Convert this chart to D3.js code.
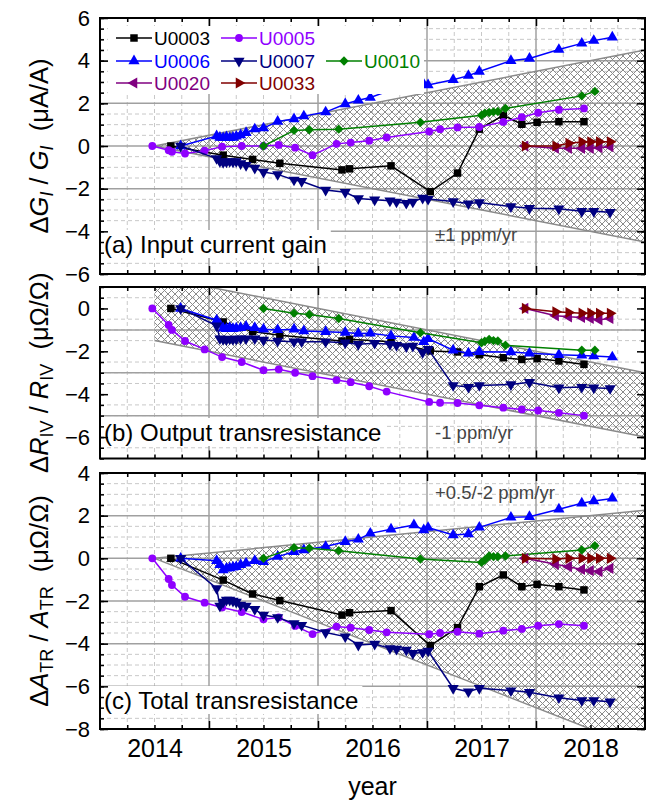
<!DOCTYPE html>
<html>
<head>
<meta charset="utf-8">
<script src="https://cdn.jsdelivr.net/npm/d3@7"></script>
<style>
  body { margin: 0; background: #fff; }
  text { font-family: "Liberation Sans", Arial, sans-serif; }
</style>
</head>
<body>
<svg width="649" height="801"></svg>
<script>
// ---- data ----
const devices = ["U0003", "U0005", "U0006", "U0007", "U0010", "U0020", "U0033"];

const tU0003 = [2014.65, 2015.13, 2015.40, 2015.65, 2016.22, 2016.29, 2016.67, 2017.03, 2017.28, 2017.48, 2017.70, 2017.87, 2018.01, 2018.21, 2018.44];
const gainU0003 = [0, -0.43, -0.63, -0.81, -1.12, -1.07, -0.93, -2.14, -1.27, 0.79, 1.44, 1.02, 1.11, 1.14, 1.14];
const outU0003 = [0, -0.63, -1.08, -1.25, -1.52, -1.44, -1.55, -1.98, -2.03, -2.16, -2.30, -2.38, -2.34, -2.45, -2.61];
const totU0003 = [0, -1.02, -1.67, -1.98, -2.66, -2.55, -2.45, -4.09, -3.25, -1.33, -0.78, -1.33, -1.22, -1.33, -1.48];

const tU0005 = [2014.48, 2014.63, 2014.66, 2014.78, 2014.96, 2015.12, 2015.30, 2015.50, 2015.64, 2015.79, 2015.95, 2016.17, 2016.30, 2016.47, 2016.63, 2017.02, 2017.12, 2017.28, 2017.48, 2017.70, 2017.87, 2018.02, 2018.21, 2018.44];
const gainU0005 = [0, -0.2, -0.27, -0.35, -0.22, -0.03, 0, 0, 0.05, -0.08, -0.43, 0.1, 0.16, 0.25, 0.4, 0.68, 0.79, 0.87, 0.89, 1.13, 1.35, 1.56, 1.70, 1.76];
const outU0005 = [0, -0.77, -1.0, -1.52, -1.91, -2.27, -2.5, -2.88, -2.84, -3.0, -3.16, -3.34, -3.44, -3.63, -3.88, -4.36, -4.4, -4.41, -4.52, -4.63, -4.71, -4.76, -4.87, -5.0];
const totU0005 = [0, -0.97, -1.25, -1.8, -2.08, -2.3, -2.52, -2.86, -2.77, -3.17, -3.55, -3.2, -3.25, -3.36, -3.47, -3.56, -3.5, -3.44, -3.53, -3.39, -3.31, -3.16, -3.08, -3.16];

const tU0006 = [2014.74, 2015.07, 2015.10, 2015.13, 2015.16, 2015.19, 2015.22, 2015.25, 2015.29, 2015.34, 2015.42, 2015.50, 2015.63, 2015.78, 2015.87, 2016.07, 2016.25, 2016.37, 2016.48, 2016.67, 2016.88, 2016.97, 2017.01, 2017.24, 2017.38, 2017.48, 2017.77, 2017.94, 2018.21, 2018.42, 2018.53, 2018.70];
const gainU0006 = [0, 0.47, 0.40, 0.38, 0.42, 0.38, 0.40, 0.45, 0.52, 0.62, 0.79, 0.84, 1.15, 1.27, 1.40, 1.59, 1.97, 2.14, 2.27, 2.62, 2.98, 2.90, 2.86, 3.11, 3.30, 3.49, 4.0, 4.1, 4.52, 4.81, 4.94, 5.1];
const outU0006 = [0, -0.55, -0.75, -0.92, -0.95, -0.9, -0.95, -0.92, -0.9, -0.84, -0.9, -0.97, -1.0, -0.97, -1.05, -1.09, -1.12, -1.17, -1.16, -1.28, -1.36, -1.56, -1.41, -1.95, -2.09, -2.02, -2.03, -2.09, -2.16, -2.19, -2.22, -2.27];
const totU0006 = [0, -0.11, -0.3, -0.55, -0.47, -0.45, -0.42, -0.4, -0.3, -0.23, -0.11, -0.16, 0.08, 0.31, 0.39, 0.55, 0.78, 0.89, 1.17, 1.36, 1.56, 1.33, 1.44, 1.09, 1.14, 1.45, 1.92, 1.95, 2.3, 2.58, 2.69, 2.81];

const tU0007 = [2014.74, 2015.07, 2015.10, 2015.13, 2015.16, 2015.19, 2015.22, 2015.25, 2015.29, 2015.34, 2015.42, 2015.50, 2015.63, 2015.78, 2015.85, 2016.07, 2016.25, 2016.37, 2016.52, 2016.66, 2016.72, 2016.81, 2016.87, 2016.96, 2017.01, 2017.24, 2017.38, 2017.48, 2017.77, 2017.94, 2018.21, 2018.42, 2018.53, 2018.68];
const gainU0007 = [0, -0.58, -0.72, -0.76, -0.74, -0.72, -0.74, -0.72, -0.82, -0.9, -1.03, -1.22, -1.33, -1.59, -1.65, -2.06, -2.17, -2.46, -2.52, -2.57, -2.62, -2.68, -2.62, -2.44, -2.49, -2.6, -2.7, -2.65, -2.84, -2.92, -2.94, -3.06, -3.06, -3.1];
const outU0007 = [0, -0.81, -1.41, -1.44, -1.45, -1.42, -1.44, -1.43, -1.41, -1.41, -1.41, -1.47, -1.52, -1.55, -1.55, -1.55, -1.6, -1.67, -1.62, -1.67, -1.72, -1.78, -1.75, -2.06, -1.9, -3.59, -3.67, -3.59, -3.55, -3.44, -3.7, -3.67, -3.7, -3.73];
const totU0007 = [0, -1.41, -2.23, -2.05, -1.95, -1.95, -2.0, -2.05, -2.19, -2.23, -2.39, -2.66, -2.77, -3.05, -3.13, -3.48, -3.67, -4.06, -4.02, -4.22, -4.25, -4.3, -4.45, -4.41, -4.34, -6.09, -6.25, -6.09, -6.2, -6.28, -6.53, -6.66, -6.66, -6.72];

const tU0010 = [2015.50, 2015.78, 2015.92, 2016.19, 2016.94, 2017.50, 2017.53, 2017.57, 2017.61, 2017.65, 2017.72, 2018.42, 2018.54];
const gainU0010 = [0, 0.73, 0.76, 0.79, 1.11, 1.44, 1.54, 1.57, 1.60, 1.62, 1.76, 2.35, 2.56];
const outU0010 = [0, -0.22, -0.28, -0.47, -1.13, -1.6, -1.53, -1.45, -1.5, -1.52, -1.72, -1.95, -1.95];
const totU0010 = [0, 0.5, 0.47, 0.36, -0.03, -0.19, -0.08, 0.11, 0.08, 0.08, 0.11, 0.39, 0.59];

const tU0020 = [2017.90, 2018.18, 2018.30, 2018.42, 2018.50, 2018.58, 2018.68];
const gainU0020 = [0, -0.1, -0.11, -0.11, -0.11, -0.08, -0.03];
const outU0020 = [0, -0.34, -0.39, -0.42, -0.47, -0.53, -0.47];
const totU0020 = [0, -0.28, -0.39, -0.52, -0.58, -0.62, -0.47];

const tU0033 = [2017.90, 2018.18, 2018.30, 2018.42, 2018.50, 2018.58, 2018.68];
const gainU0033 = [0, 0, 0.13, 0.19, 0.2, 0.2, 0.2];
const outU0033 = [0, -0.16, -0.19, -0.22, -0.22, -0.23, -0.23];
const totU0033 = [0, -0.03, 0, 0, 0, 0, 0];

// tolerance bands: upper rate, lower rate (ppm/yr), upper / lower offset at start
const bandStart = 2014.5;
const bandEnd = 2019;
const gainBand = [1, -1, 0, 0];
const outBand = [-1, -1, 1.5, -1.5];
const totBand = [0.5, -2, 0, 0];

const yearTicks = [2014, 2015, 2016, 2017, 2018];

// ---- styles ----
const colors = { U0003: "#000000", U0005: "#8F00FF", U0006: "#0000FF", U0007: "#000080", U0010: "#008000", U0020: "#800080", U0033: "#800000" };
const shapes = {
  U0003: [d3.symbolSquare, 0, 56],
  U0005: [d3.symbolCircle, 0, 48],
  U0006: [d3.symbolTriangle, 0, 54],
  U0007: [d3.symbolTriangle, 180, 54],
  U0010: [d3.symbolSquare, 45, 44],
  U0020: [d3.symbolTriangle, -90, 54],
  U0033: [d3.symbolTriangle, 90, 54]
};

const series = {
  U0003: [tU0003, gainU0003, outU0003, totU0003],
  U0005: [tU0005, gainU0005, outU0005, totU0005],
  U0006: [tU0006, gainU0006, outU0006, totU0006],
  U0007: [tU0007, gainU0007, outU0007, totU0007],
  U0010: [tU0010, gainU0010, outU0010, totU0010],
  U0020: [tU0020, gainU0020, outU0020, totU0020],
  U0033: [tU0033, gainU0033, outU0033, totU0033]
};

const svg = d3.select("svg");
const x = d3.scaleLinear().domain([2014, 2019]).range([100, 645]);
const X0 = 100, X1 = 645;

// hatch pattern
const defs = svg.append("defs");
const pat = defs.append("pattern")
  .attr("id", "hatch")
  .attr("patternUnits", "userSpaceOnUse")
  .attr("width", 7).attr("height", 7);
pat.append("path")
  .attr("d", "M0,0 L7,7 M7,0 L0,7 M-1,6 L1,8 M6,-1 L8,1")
  .attr("stroke", "#8a8a8a").attr("stroke-width", 1).attr("fill", "none");

const panels = [
  { dom: [-6, 6], top: 18, bottom: 274, labels: [-6, -4, -2, 0, 2, 4, 6], band: gainBand,
    note: "±1 ppm/yr", noteX: 435, noteY: 241, title: "(a) Input current gain", titleY: 253 },
  { dom: [-7, 1], top: 287, bottom: 458.5, labels: [-6, -4, -2, 0], band: outBand,
    note: "-1 ppm/yr", noteX: 435, noteY: 439, title: "(b) Output transresistance", titleY: 441 },
  { dom: [-8, 4], top: 473, bottom: 729, labels: [-8, -6, -4, -2, 0, 2, 4], band: totBand,
    note: "+0.5/-2 ppm/yr", noteX: 435, noteY: 499, title: "(c) Total transresistance", titleY: 709 }
];

panels.forEach((p, i) => {
  const y = d3.scaleLinear().domain(p.dom).range([p.bottom, p.top]);
  const g = svg.append("g");

  defs.append("clipPath").attr("id", "clip" + i)
    .append("rect").attr("x", X0).attr("y", p.top).attr("width", X1 - X0).attr("height", p.bottom - p.top);

  // minor grid
  const minorX = d3.range(2014.25, 2019, 0.25).filter(v => Math.abs(v - Math.round(v)) > 0.01);
  const minorY = d3.range(p.dom[0] + 0.5, p.dom[1], 0.5).filter(v => Math.abs(v % 2) > 0.01);
  g.append("g").selectAll("line").data(minorX).join("line")
    .attr("x1", d => x(d)).attr("x2", d => x(d)).attr("y1", p.top).attr("y2", p.bottom)
    .attr("stroke", "#c8c8c8").attr("stroke-width", 1).attr("stroke-dasharray", "4,3");
  g.append("g").selectAll("line").data(minorY).join("line")
    .attr("x1", X0).attr("x2", X1).attr("y1", d => y(d)).attr("y2", d => y(d))
    .attr("stroke", "#c8c8c8").attr("stroke-width", 1).attr("stroke-dasharray", "4,3");

  // major grid
  const majorX = [2015, 2016, 2017, 2018];
  const majorY = d3.range(p.dom[0], p.dom[1] + 0.1, 2).filter(v => v > p.dom[0] && v < p.dom[1]);
  g.append("g").selectAll("line").data(majorX).join("line")
    .attr("x1", d => x(d)).attr("x2", d => x(d)).attr("y1", p.top).attr("y2", p.bottom)
    .attr("stroke", "#a0a0a0").attr("stroke-width", 1.5);
  g.append("g").selectAll("line").data(majorY).join("line")
    .attr("x1", X0).attr("x2", X1).attr("y1", d => y(d)).attr("y2", d => y(d))
    .attr("stroke", "#a0a0a0").attr("stroke-width", 1.5);

  // tolerance band
  const [up, lo, offU, offL] = p.band;
  const dt = bandEnd - bandStart;
  const poly = [[bandStart, offU], [bandEnd, offU + up * dt], [bandEnd, offL + lo * dt], [bandStart, offL]];
  const bandG = g.append("g").attr("clip-path", `url(#clip${i})`);
  bandG.append("path")
    .attr("d", d3.line().x(d => x(d[0])).y(d => y(d[1]))(poly) + "Z")
    .attr("fill", "url(#hatch)");
  [[poly[0], poly[1]], [poly[3], poly[2]]].forEach(seg => {
    bandG.append("path")
      .attr("d", d3.line().x(d => x(d[0])).y(d => y(d[1]))(seg))
      .attr("stroke", "#8a8a8a").attr("stroke-width", 1.5).attr("fill", "none");
  });

  // data
  devices.forEach(dev => {
    const [ts, ...vals] = series[dev];
    const pts = ts.map((t, k) => [t, vals[i][k]]);
    g.append("path")
      .attr("d", d3.line().x(d => x(d[0])).y(d => y(d[1]))(pts))
      .attr("stroke", colors[dev]).attr("stroke-width", 1.5).attr("fill", "none");
    const [sym, rot, size] = shapes[dev];
    g.append("g").selectAll("path").data(pts).join("path")
      .attr("d", d3.symbol().type(sym).size(size))
      .attr("transform", d => `translate(${x(d[0])},${y(d[1])}) rotate(${rot})`)
      .attr("fill", colors[dev]);
  });

  // band note
  g.append("text").attr("x", p.noteX).attr("y", p.noteY)
    .attr("font-size", 18.5).attr("fill", "#444").text(p.note);

  // panel title with white box
  const tt = g.append("text").attr("x", 104).attr("y", p.titleY)
    .attr("font-size", 24).attr("fill", "#000").text(p.title);
  const bb = tt.node().getBBox();
  g.insert("rect", "text:last-of-type")
    .attr("x", X0 + 1).attr("y", bb.y - 1).attr("width", bb.width + 7).attr("height", bb.height + 1)
    .attr("fill", "#fff");
  tt.raise();

  // axes (inward ticks on all sides)
  const mkX = (axis, ty) => {
    const a = g.append("g").attr("transform", `translate(0,${ty})`);
    a.call(axis(x).tickValues(minorX).tickSize(-4).tickFormat(""));
    a.append("g").call(axis(x).tickValues(majorX).tickSize(-8).tickFormat(""));
    a.selectAll(".domain").remove();
    a.selectAll("line").attr("stroke", "#000").attr("stroke-width", 1.5);
  };
  mkX(d3.axisBottom, p.bottom);
  mkX(d3.axisTop, p.top);
  const allMinorY = d3.range(p.dom[0], p.dom[1] + 0.01, 0.5);
  const allMajorY = allMinorY.filter(v => Math.abs(v % 2) < 0.01);
  const mkY = (axis, tx) => {
    const a = g.append("g").attr("transform", `translate(${tx},0)`);
    a.call(axis(y).tickValues(allMinorY).tickSize(-4).tickFormat(""));
    a.append("g").call(axis(y).tickValues(allMajorY).tickSize(-8).tickFormat(""));
    a.selectAll(".domain").remove();
    a.selectAll("line").attr("stroke", "#000").attr("stroke-width", 1.5);
  };
  mkY(d3.axisLeft, X0);
  mkY(d3.axisRight, X1);

  // y tick labels
  const yl = g.append("g").attr("transform", `translate(${X0},0)`)
    .call(d3.axisLeft(y).tickValues(p.labels).tickSize(0).tickPadding(10).tickFormat(d3.format("d")));
  yl.select(".domain").remove();
  yl.selectAll("text").attr("font-size", 22).attr("font-family", "Liberation Sans, Arial, sans-serif").attr("fill", "#000");

  // frame
  g.append("rect").attr("x", X0).attr("y", p.top).attr("width", X1 - X0).attr("height", p.bottom - p.top)
    .attr("fill", "none").attr("stroke", "#000").attr("stroke-width", 2);

  p.y = y;
});

// year labels under the bottom panel (centered on each year)
const yearAxis = svg.append("g").attr("transform", `translate(0,${panels[2].bottom})`)
  .call(d3.axisBottom(x).tickValues(yearTicks.map(v => v + 0.5)).tickSize(0).tickPadding(10).tickFormat(d => Math.floor(d)));
yearAxis.select(".domain").remove();
yearAxis.selectAll("text").attr("font-size", 25).attr("font-family", "Liberation Sans, Arial, sans-serif").attr("fill", "#000");

svg.append("text").attr("x", (X0 + X1) / 2).attr("y", 795).attr("text-anchor", "middle")
  .attr("font-size", 25).text("year");

// y axis titles
const yTitles = [
  { main: "G", sub: "I", italicSub: true, unit: "(μA/A)" },
  { main: "R", sub: "IV", italicSub: false, unit: "(μΩ/Ω)" },
  { main: "A", sub: "TR", italicSub: false, unit: "(μΩ/Ω)" }
];
yTitles.forEach((tt, i) => {
  const p = panels[i];
  const cy = (p.top + p.bottom) / 2;
  const t = svg.append("text")
    .attr("transform", `translate(48,${cy}) rotate(-90)`)
    .attr("text-anchor", "middle").attr("font-size", 25.5);
  t.append("tspan").text("Δ");
  t.append("tspan").attr("font-style", "italic").text(tt.main);
  t.append("tspan").attr("font-size", 18).attr("dy", 5).attr("font-style", tt.italicSub ? "italic" : "normal").text(tt.sub);
  t.append("tspan").attr("dy", -5).text(" / ");
  t.append("tspan").attr("font-style", "italic").text(tt.main);
  t.append("tspan").attr("font-size", 18).attr("dy", 5).attr("font-style", tt.italicSub ? "italic" : "normal").text(tt.sub);
  t.append("tspan").attr("dy", -5).attr("xml:space", "preserve").text("\u00a0 " + tt.unit);
});

// legend
const legendPos = [[116, 38], [221, 38], [116, 61], [221, 61], [326, 61], [116, 83], [221, 83]];
const lg = svg.append("g");
lg.append("rect").attr("x", 108).attr("y", 26).attr("width", 316).attr("height", 68).attr("fill", "#fff");
devices.forEach((dev, k) => {
  const [lx, ly] = legendPos[k];
  lg.append("line").attr("x1", lx).attr("x2", lx + 36).attr("y1", ly).attr("y2", ly)
    .attr("stroke", colors[dev]).attr("stroke-width", 1.5);
  const [sym, rot, size] = shapes[dev];
  lg.append("path").attr("d", d3.symbol().type(sym).size(size)())
    .attr("transform", `translate(${lx + 18},${ly}) rotate(${rot})`).attr("fill", colors[dev]);
  lg.append("text").attr("x", lx + 38).attr("y", ly + 7).attr("font-size", 19)
    .attr("fill", colors[dev]).text(dev);
});
</script>
</body>
</html>
